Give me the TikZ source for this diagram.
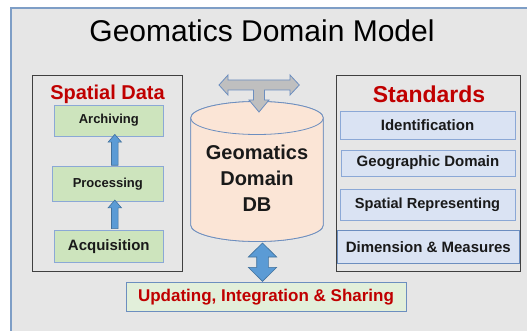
\documentclass[tikz,border=0pt]{standalone}
\usepackage{fontspec}
\setmainfont{Liberation Sans}
\usetikzlibrary{calc}
\definecolor{bggray}{HTML}{E6E6E6}
\definecolor{framebl}{HTML}{7E9EC6}
\definecolor{panelline}{HTML}{404040}
\definecolor{greenfill}{HTML}{CDE4BD}
\definecolor{updfill}{HTML}{E2EFDA}
\definecolor{bluefill}{HTML}{DAE3F3}
\definecolor{boxline}{HTML}{8BA8D6}
\definecolor{darkboxline}{HTML}{6C8EBF}
\definecolor{redtxt}{HTML}{C00000}
\definecolor{cylfill}{HTML}{FBE5D6}
\definecolor{arrfill}{HTML}{5B9BD5}
\definecolor{arrline}{HTML}{41719C}
\definecolor{tgray}{HTML}{BFBFBF}
\newcommand\blockup[5]{\draw[blockarrow] let \p1=(#1),\p2=(#2) in
  (\x1-#3,\y1) -- (\x1-#3,\y2-#5) -- (\x1-#4,\y2-#5) -- (\x1,\y2) -- (\x1+#4,\y2-#5) -- (\x1+#3,\y2-#5) -- (\x1+#3,\y1) -- cycle;}
\newcommand\blockvdouble[5]{\draw[blockarrow] let \p1=(#1),\p2=(#2) in
  (\x1,\y1) -- (\x1+#4,\y1-#5) -- (\x1+#3,\y1-#5) -- (\x1+#3,\y2+#5) -- (\x1+#4,\y2+#5) -- (\x1,\y2)
  -- (\x1-#4,\y2+#5) -- (\x1-#3,\y2+#5) -- (\x1-#3,\y1-#5) -- (\x1-#4,\y1-#5) -- cycle;}
\tikzset{
  panel/.style={draw=panelline, line width=0.9pt, fill=bggray},
  greenbox/.style={draw=boxline, line width=0.8pt, fill=greenfill, inner sep=0pt, text=black!90, font=\bfseries\fontsize{13}{15}\selectfont},
  bluebox/.style={draw=boxline, line width=0.8pt, fill=bluefill, inner sep=0pt, text=black!90, font=\bfseries\fontsize{15}{17}\selectfont},
  redtitle/.style={inner sep=0pt, text=redtxt, font=\bfseries\fontsize{20}{22}\selectfont},
  blockarrow/.style={fill=arrfill, draw=arrline, line width=0.6pt, line join=miter},
  cyl/.style={fill=cylfill, draw=darkboxline, line width=0.8pt},
}
\begin{document}
\begin{tikzpicture}[x=1pt,y=-1pt]
\useasboundingbox (0,0) rectangle (527,331);
% background panel
\fill[bggray] (11,8) rectangle (530,335);
\draw[framebl, line width=1.2pt] (11,335) -- (11,8) -- (530,8);
% title
\node[inner sep=0pt, font=\fontsize{30}{34}\selectfont] (title) at (262,31) {Geomatics Domain Model};
% left panel
\draw[panel] (32.7,75) rectangle (182.7,271.7);
\node[redtitle] (sdtitle) at (107.5,94) {Spatial Data};
\node[greenbox, minimum width=109pt, minimum height=31pt] (arch) at (108.8,120.5) {Archiving};
\node[greenbox, minimum width=111pt, minimum height=35pt] (proc) at (107.8,184.2) {Processing};
\node[greenbox, minimum width=109pt, minimum height=32.7pt, font=\bfseries\fontsize{15}{17}\selectfont] (acq) at (108.8,246.3) {Acquisition};
\blockup{$(proc.north)+(7,-1)$}{$(arch.south)+(7,-2)$}{3.3pt}{6.7pt}{7.7pt}
\blockup{$(acq.north)+(6,-1)$}{$(proc.south)+(6,-2)$}{3.3pt}{6.7pt}{7.7pt}
% right panel
\draw[panel] (336.7,75) rectangle (520.7,271);
\node[redtitle, font=\bfseries\fontsize{23}{25}\selectfont] (sttitle) at (429,94) {Standards};
\node[bluebox, minimum width=175pt, minimum height=27.6pt] (ident) at (427.5,125.5) {Identification};
\node[bluebox, minimum width=174pt, minimum height=26pt] (geo) at (428,163) {Geographic Domain};
\node[bluebox, minimum width=175pt, minimum height=31pt, font=\bfseries\fontsize{14.6}{17}\selectfont] (srep) at (427.5,204.5) {Spatial Representing};
\node[bluebox, draw=darkboxline, minimum width=182pt, minimum height=33.3pt] (dim) at (428.3,246.7) {Dimension \& Measures};
% cylinder
\path[cyl] (190.7,118) -- (190.7,225) arc[start angle=180, end angle=0, x radius=66.3, y radius=16.5]
  -- (323.3,118) arc[start angle=0, end angle=-180, x radius=66.3, y radius=16.5] -- cycle;
\draw[cyl] (190.7,118) -- (190.7,225) arc[start angle=180, end angle=0, x radius=66.3, y radius=16.5] -- (323.3,118);
\draw[cyl] (257,118) ellipse[x radius=66.3, y radius=16.5];
\node[minimum width=132.6pt, minimum height=140pt, inner sep=0pt] (db) at (257,171.6) {};
\node[inner sep=0pt, align=center, text=black!90, font=\bfseries\fontsize{20}{25.8}\selectfont] (dbtext) at (257,178) {Geomatics\\Domain\\DB};
% T arrow on top
\draw[fill=tgray, draw=darkboxline, line width=0.8pt, line join=miter]
  (219,85) -- (228,75) -- (228,80) -- (290,80) -- (290,75) -- (299.3,85) -- (290,95) -- (290,90)
  -- (264.5,90) -- (264.5,100) -- (269,100) -- (259,112) -- (249,100) -- (253.5,100) -- (253.5,90)
  -- (228,90) -- (228,95) -- cycle;
% bottom box
\node[draw=darkboxline, line width=0.8pt, fill=updfill, inner sep=0pt, minimum width=280pt, minimum height=28.7pt,
  text=redtxt, font=\bfseries\fontsize{17}{19}\selectfont] (upd) at (266,296.7) {Updating, Integration \& Sharing};
\blockvdouble{$(db.south)+(5.5,1.2)$}{$(upd.north)+(-3.5,-0.6)$}{5.8pt}{14.2pt}{14pt}
\end{tikzpicture}
\end{document}
